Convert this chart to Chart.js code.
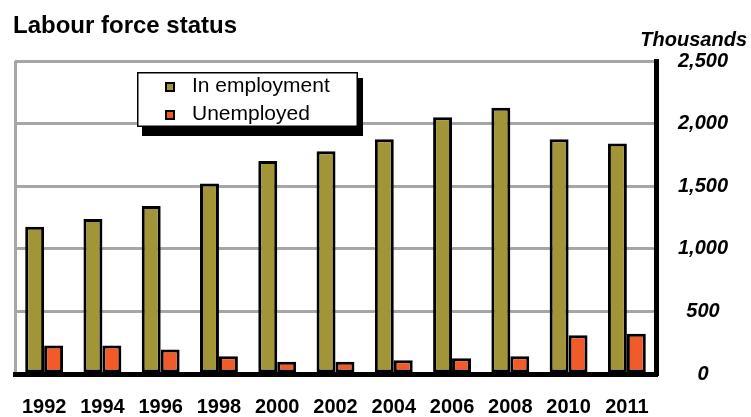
<!DOCTYPE html>
<html>
<head>
<meta charset="utf-8">
<script src="https://cdn.jsdelivr.net/npm/chart.js@4"></script>
<style>
  html, body { margin: 0; padding: 0; background: #ffffff; }
  #wrap { width: 751px; height: 417px; position: relative; }
</style>
</head>
<body>
<div id="wrap"><canvas id="c" width="751" height="417"></canvas></div>
<script>
const chartTitle = 'Labour force status';
const unitLabel = 'Thousands';
const years = ['1992','1994','1996','1998','2000','2002','2004','2006','2008','2010','2011'];
const employment = [1177, 1238, 1342, 1522, 1702, 1779, 1875, 2050, 2127, 1875, 1841];
const unemployed = [227, 227, 195, 142, 97, 97, 110, 126, 142, 309, 322];
const seriesNames = ['In employment', 'Unemployed'];
const seriesColors = ['#A19538', '#F15A29'];
const yTicks = [0, 500, 1000, 1500, 2000, 2500];

const FONT = '"Liberation Sans", Arial, Helvetica, sans-serif';

const decorPlugin = {
  id: 'decor',
  afterDraw(chart) {
    const ctx = chart.ctx;
    ctx.save();
    // Title
    ctx.fillStyle = '#000';
    ctx.font = 'bold 24px ' + FONT;
    ctx.textAlign = 'left';
    ctx.textBaseline = 'alphabetic';
    ctx.fillText(chartTitle, 13, 33);
    // Units
    ctx.font = 'italic bold 20px ' + FONT;
    ctx.textAlign = 'right';
    ctx.fillText(unitLabel, 747, 46);

    // Legend box
    const bx = 137, by = 72, bw = 221, bh = 55;
    ctx.fillStyle = '#000';
    ctx.fillRect(bx + 5, by + 6, bw, bh + 3);
    ctx.fillStyle = '#fff';
    ctx.fillRect(bx, by, bw, bh);
    ctx.strokeStyle = '#000';
    ctx.lineWidth = 1.5;
    ctx.strokeRect(bx + 0.75, by + 0.75, bw - 1.5, bh - 1.5);
    const ds = chart.data.datasets;
    const rows = [87, 115];
    ds.forEach((d, i) => {
      ctx.fillStyle = '#000';
      ctx.fillRect(165, rows[i] - 5, 10, 10);
      ctx.fillStyle = d.backgroundColor;
      ctx.fillRect(167, rows[i] - 3, 6, 6);
      ctx.fillStyle = '#000';
      ctx.font = '21px ' + FONT;
      ctx.textAlign = 'left';
      ctx.textBaseline = 'middle';
      ctx.fillText(d.label, 192, rows[i] - 1);
    });
    ctx.restore();
  }
};

new Chart(document.getElementById('c'), {
  type: 'bar',
  data: {
    labels: years,
    datasets: [
      { label: seriesNames[0], data: employment, backgroundColor: seriesColors[0], borderColor: '#000', borderWidth: 3, borderSkipped: false },
      { label: seriesNames[1], data: unemployed, backgroundColor: seriesColors[1], borderColor: '#000', borderWidth: 3, borderSkipped: false }
    ]
  },
  options: {
    responsive: false,
    animation: false,
    devicePixelRatio: 1,
    layout: { padding: { left: 15, top: 61, right: 0, bottom: 0 } },
    datasets: { bar: { categoryPercentage: 0.65, barPercentage: 1.0 } },
    plugins: {
      legend: { display: false },
      title: { display: false },
      tooltip: { enabled: false }
    },
    scales: {
      x: {
        offset: true,
        grid: {
          offset: true,
          drawTicks: false,
          color: (c) => (c.index === 0 ? '#A6A6A6' : 'rgba(0,0,0,0)'),
          lineWidth: 3
        },
        border: { display: true, color: '#000', width: 5 },
        ticks: {
          color: '#000',
          font: { family: FONT, size: 20, weight: 'bold' },
          padding: 21,
          maxRotation: 0,
          autoSkip: false
        },
        afterFit(scale) { scale.height = 43; }
      },
      y: {
        position: 'right',
        min: 0,
        max: 2500,
        afterBuildTicks(scale) { scale.ticks = yTicks.map(v => ({ value: v })); },
        grid: { color: '#A6A6A6', lineWidth: 3, drawTicks: false },
        border: { display: true, color: '#000', width: 5 },
        ticks: {
          color: '#000',
          font: { family: FONT, size: 20, weight: 'bold', style: 'italic' },
          padding: 22,
          crossAlign: 'center',
          callback: (v) => v.toLocaleString('en-US')
        },
        afterFit(scale) { scale.width = 95; }
      }
    }
  },
  plugins: [decorPlugin]
});
</script>
</body>
</html>
